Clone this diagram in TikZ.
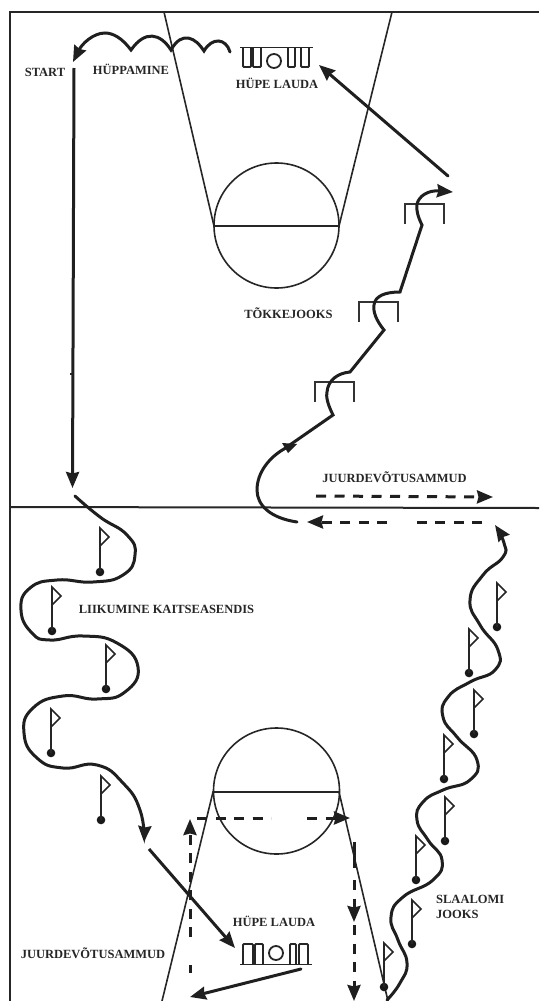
\documentclass[tikz,border=0pt]{standalone}
\usepackage{fontspec}
\setmainfont{Liberation Serif}
\usetikzlibrary{arrows.meta}

\tikzset{
    lbl/.style={font=\bfseries\fontsize{12.5}{14.5}\selectfont,inner sep=0pt,text=black!85},
    court/.style={line width=1.6pt,draw=black!85},
    run/.style={line width=3pt,draw=black!88,line cap=round},
    tip/.style={-{Triangle[length=16pt,width=13pt,inset=1.5pt]}},
    dashrun/.style={line width=3pt,draw=black!88,dash pattern=on 10pt off 8.5pt},
    gear/.style={line width=1.8pt,draw=black!85,rounded corners=1pt}
}

\begin{document}
\begin{tikzpicture}[x=1pt,y=-1pt]
        \useasboundingbox (0,0) rectangle (539,1001);
        % court border and centre line
        \coordinate (TL) at (10,12);
        \coordinate (TR) at (539,12);
        \coordinate (BL) at (10,1001);
        \coordinate (ML) at (10,507);
        \coordinate (MR) at (539,508);
        \draw [court,line width=2pt] (TR) -- (TL) -- (BL);
        \draw [court,line width=2pt] (ML) -- (MR);

        % upper key
        \coordinate (A) at (214,226);
        \coordinate (B) at (339,226);
        \draw [court] (164,12) -- (A) -- (B) -- (392,12);
        \draw [court] (276.5,225.5) circle (62.5);
        % lower key
        \coordinate (C) at (213,792);
        \coordinate (D) at (339,792);
        \draw [court] (162,1001) -- (C) -- (D) -- (388,1001);
        \draw [court] (276.5,791) circle (63);

        % springboards
        \draw [gear,line width=1pt] (240,47) -- (313,47);
        \foreach \a/\b in {243/251,253/261,288/295,301/309}
            \draw [gear] (\a,47) -- (\a,67) -- (\b,67) -- (\b,47);
        \draw [gear] (274,61) circle (7);
        \draw [gear,line width=1pt] (240,964) -- (312,964);
        \foreach \a/\b in {243/253,255/263,290/296,299/308}
            \draw [gear] (\a,964) -- (\a,944) -- (\b,944) -- (\b,964);
        \draw [gear] (276,953) circle (7);

        % hurdles
        \foreach \a/\y in {315/382,359/302,405/204}
            \draw [line width=2pt,draw=black!80] (\a,\y+20) -- (\a,\y) -- (\a+39,\y) -- (\a+39,\y+20);

        % flags, the ball gives the position
        \foreach \a/\y in {100/572,52/631,106/689,51/753,101/820,
                497/627,469/673,474/734,444/779,445/841,416/880,412/944,384/987}{
            \fill [black!90] (\a,\y) circle (4.3);
            \draw [line width=1.6pt,black!85] (\a,\y) -- (\a,\y-44) -- (\a+9,\y-35) -- (\a,\y-26);
        }

        % jumps from the board to the start
        \coordinate (J1) at (230,52);
        \coordinate (J2) at (73,62);
        \draw [run,tip] (J1) .. controls (226,38) and (212,37) .. (204,51)
            .. controls (196,38) and (182,30) .. (171,50)
            .. controls (160,33) and (145,30) .. (131,50)
            .. controls (122,38) and (113,33) .. (105,33)
            .. controls (93,33) and (82,44) .. (J2);

        % long run down
        \coordinate (S1) at (74,68);
        \coordinate (S2) at (72.5,488);
        \draw [run,line cap=butt,tip] (S1) -- (S2);
        \draw [line width=1.5pt,black!85] (70,374) -- (72,374);

        % defensive slalom
        \draw [run,tip] plot [smooth,tension=.85] coordinates {(75,496) (100,517) (127,535) (135,555) (123,575)
            (93,582) (57,580) (30,588) (21,610) (32,633) (50,640) (83,636) (117,643) (138,667)
            (125,692) (97,699) (63,696) (33,708) (24,733) (37,758) (63,768) (97,765) (123,783)
            (140,810) (144,842)};

        % to the lower board and away
        \coordinate (L1) at (149,849);
        \coordinate (L2) at (235,948);
        \draw [run,line cap=butt,tip] (L1) -- (L2);
        \coordinate (L3) at (301,969);
        \coordinate (L4) at (190,997);
        \draw [run,tip] (L3) -- (L4);

        % dashed run around the lower key
        \coordinate (V1) at (190,973);
        \coordinate (V2) at (190,965);
        \coordinate (V3) at (190,937);
        \coordinate (V4) at (190,819);
        \draw [dashrun,dash pattern=] (V1) -- (V2);
        \draw [dashrun,tip] (V3) -- (V4);
        \coordinate (H1) at (197,818);
        \coordinate (H2) at (271,818);
        \coordinate (H3) at (307,818);
        \coordinate (H4) at (350,818);
        \draw [dashrun] (H1) -- (H2);
        \draw [dashrun,tip] (H3) -- (H4);
        \coordinate (W1) at (354,842);
        \coordinate (W2) at (354,868);
        \coordinate (W3) at (354,880);
        \coordinate (W4) at (354,922);
        \coordinate (W5) at (354,925);
        \coordinate (W6) at (354,1001);
        \draw [dashrun,dash pattern=] (W1) -- (W2);
        \draw [dashrun,tip] (W3) -- (W4);
        \draw [dashrun,tip] (W5) -- (W6);

        % right slalom going up
        \draw [run,tip] plot [smooth,tension=.85] coordinates {(387,1000) (400,983) (407,963) (398,940) (391,917)
            (403,897) (433,880) (442,860) (428,840) (417,820) (423,802) (443,790) (470,780)
            (477,760) (457,737) (443,717) (448,697) (470,682) (495,670) (498,650) (480,625)
            (470,600) (483,575) (503,557) (504,543) (495,525)};

        % dashed steps along the centre line
        \coordinate (T1) at (316,496);
        \coordinate (T2) at (493,497);
        \draw [dashrun,tip] (T1) -- (T2);
        \coordinate (R1) at (482,522);
        \coordinate (R2) at (417,522);
        \coordinate (R3) at (387,522);
        \coordinate (R4) at (307,522);
        \draw [dashrun] (R1) -- (R2);
        \draw [dashrun,tip] (R3) -- (R4);

        % hurdle run
        \coordinate (U1) at (297,522);
        \coordinate (U2) at (453,192);
        \draw [run,tip] (U1) .. controls (270,518) and (257,505) .. (257,490)
            .. controls (257,472) and (270,457) .. (284,449) -- (333,415)
            .. controls (327,403) and (326,396) .. (327,392)
            .. controls (328,380) and (338,373) .. (350,372) -- (384,330)
            .. controls (376,320) and (373,312) .. (374,305)
            .. controls (375,296) and (385,292) .. (400,292) -- (422,225)
            .. controls (418,217) and (416,210) .. (417,204)
            .. controls (419,196) and (428,190) .. (U2);
        \fill [black!88] (282,443) -- (297,444) -- (288,453) -- cycle;

        % back to the upper board
        \coordinate (K1) at (448,176);
        \coordinate (K2) at (319,65);
        \draw [run,tip] (K1) -- (K2);

        % labels
        \node [lbl] (start) at (45,72.5) {START};
        \node [lbl] (hop) at (131,69) {HÜPPAMINE};
        \node [lbl] (boardtop) at (277,83) {HÜPE LAUDA};
        \node [lbl] (hurdle) at (288.5,313) {TÕKKEJOOKS};
        \node [lbl] (steptop) at (394.5,477) {JUURDEVÕTUSAMMUD};
        \node [lbl] (defence) at (166.5,609) {LIIKUMINE KAITSEASENDIS};
        \node [lbl] (stepbottom) at (93,953) {JUURDEVÕTUSAMMUD};
        \node [lbl] (boardbottom) at (274,921) {HÜPE LAUDA};
        \node [lbl,align=left,anchor=west] (slalom) at (436,907) {SLAALOMI\\JOOKS};
    \end{tikzpicture}
\end{document}
